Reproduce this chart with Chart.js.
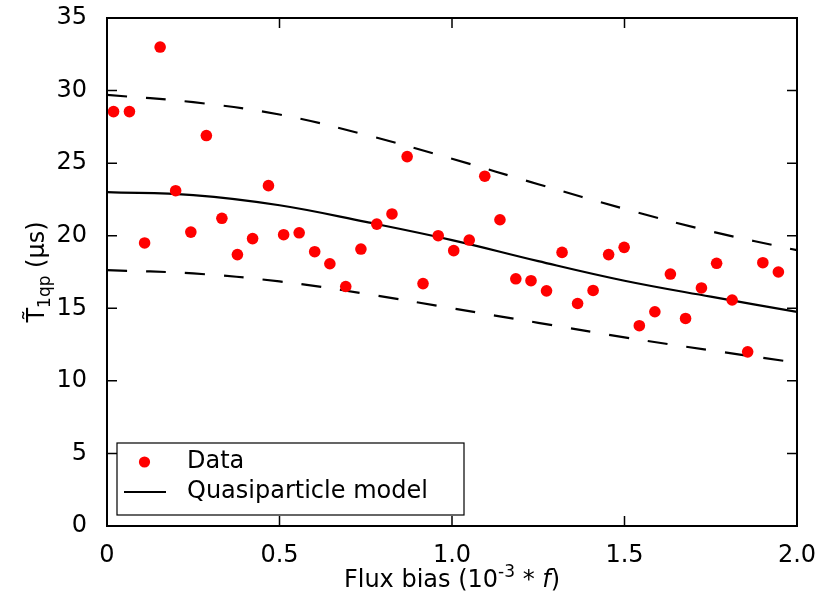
<!DOCTYPE html>
<html lang="en">
<head>
<meta charset="UTF-8" />
<title>T1qp vs flux bias</title>
<script src="https://cdn.jsdelivr.net/npm/chart.js"></script>
<style>
  html, body { margin: 0; padding: 0; background: #ffffff; }
  #wrap { position: relative; width: 818px; height: 604px; }
</style>
</head>
<body>
<div id="wrap"><canvas id="chart" width="818" height="604"></canvas></div>
<script>
// measured points (flux bias in 1e-3 * f, T1qp in us)
const fluxBias = [0.019, 0.065, 0.109, 0.154, 0.199, 0.243, 0.288, 0.333, 0.378, 0.422, 0.468,
  0.512, 0.557, 0.602, 0.646, 0.692, 0.736, 0.782, 0.826, 0.870, 0.916, 0.960, 1.005, 1.050,
  1.095, 1.139, 1.185, 1.229, 1.274, 1.319, 1.364, 1.409, 1.454, 1.499, 1.543, 1.588, 1.633,
  1.677, 1.723, 1.767, 1.812, 1.857, 1.901, 1.946];
const t1qp = [28.55, 28.55, 19.5, 33.0, 23.1, 20.25, 26.9, 21.2, 18.7, 19.8, 23.45,
  20.07, 20.2, 18.9, 18.07, 16.5, 19.08, 20.8, 21.5, 25.45, 16.7, 20.0, 18.97, 19.7,
  24.1, 21.1, 17.03, 16.9, 16.2, 18.85, 15.33, 16.23, 18.7, 19.2, 13.8, 14.76, 17.36,
  14.3, 16.4, 18.1, 15.57, 12.0, 18.14, 17.5];

// quasiparticle model curves
const modelFlux  = [0, 0.25, 0.5, 0.75, 1.0, 1.25, 1.5, 1.75, 2.0];
const modelT     = [23.0, 22.8, 22.1, 20.95, 19.7, 18.25, 16.9, 15.8, 14.75];
const modelUpper = [29.7, 29.2, 28.35, 26.95, 25.3, 23.55, 21.85, 20.3, 19.0];
const modelLower = [17.63, 17.4, 16.85, 16.0, 15.0, 14.0, 13.0, 12.1, 11.25];

const xTickLabels = ['0', '0.5', '1.0', '1.5', '2.0'];
const yTickLabels = ['0', '5', '10', '15', '20', '25', '30', '35'];

const FONT = '"DejaVu Sans", sans-serif';

function pairs(xs, ys) {
  return xs.map((x, i) => ({ x: x, y: ys[i] }));
}

// frame + inward ticks on all four sides, like the matplotlib original
const framePlugin = {
  id: 'frame',
  afterDatasetsDraw(chart) {
    const { ctx, chartArea: a, scales } = chart;
    const len = 10;
    ctx.save();
    ctx.strokeStyle = '#000';
    ctx.lineWidth = 1.5;
    ctx.beginPath();
    scales.x.ticks.forEach(t => {
      const px = scales.x.getPixelForValue(t.value);
      ctx.moveTo(px, a.bottom); ctx.lineTo(px, a.bottom - len);
      ctx.moveTo(px, a.top); ctx.lineTo(px, a.top + len);
    });
    scales.y.ticks.forEach(t => {
      const py = scales.y.getPixelForValue(t.value);
      ctx.moveTo(a.left, py); ctx.lineTo(a.left + len, py);
      ctx.moveTo(a.right, py); ctx.lineTo(a.right - len, py);
    });
    ctx.stroke();
    ctx.lineWidth = 2;
    ctx.strokeRect(a.left, a.top, a.right - a.left, a.bottom - a.top);
    ctx.restore();
  }
};

// legend box in the lower left corner + axis titles with sub/superscripts
const textPlugin = {
  id: 'texts',
  afterDraw(chart) {
    const { ctx, chartArea: a } = chart;
    ctx.save();

    // legend
    const bx = a.left + 10, by = 443, bw = 347, bh = 72;
    ctx.fillStyle = '#fff';
    ctx.fillRect(bx, by, bw, bh);
    ctx.strokeStyle = '#000';
    ctx.lineWidth = 1.2;
    ctx.strokeRect(bx, by, bw, bh);
    ctx.fillStyle = 'red';
    ctx.beginPath();
    ctx.arc(bx + 27.5, by + 19, 5.6, 0, Math.PI * 2);
    ctx.fill();
    ctx.strokeStyle = '#000';
    ctx.lineWidth = 2;
    ctx.beginPath();
    ctx.moveTo(bx + 7, by + 49); ctx.lineTo(bx + 49, by + 49);
    ctx.stroke();
    ctx.fillStyle = '#000';
    ctx.font = '24px ' + FONT;
    ctx.textBaseline = 'middle';
    ctx.textAlign = 'left';
    ctx.fillText('Data', bx + 70, by + 19);
    ctx.fillText('Quasiparticle model', bx + 70, by + 49);

    // x title: Flux bias (10^-3 * f)
    const parts = [
      { t: 'Flux bias (10', f: '24px ' + FONT, dy: 0 },
      { t: '-3', f: '17px ' + FONT, dy: -10 },
      { t: ' * ', f: '24px ' + FONT, dy: 0 },
      { t: 'f', f: 'italic 24px ' + FONT, dy: 0 },
      { t: ')', f: '24px ' + FONT, dy: 0 }
    ];
    drawParts(ctx, parts, (a.left + a.right) / 2, 587);

    // y title: T~_1qp (us)
    const yparts = [
      { t: 'T\u0303', f: '24px ' + FONT, dy: 0 },
      { t: '1qp', f: '17px ' + FONT, dy: 6 },
      { t: ' (\u03bcs)', f: '24px ' + FONT, dy: 0 }
    ];
    ctx.translate(44, (a.top + a.bottom) / 2);
    ctx.rotate(-Math.PI / 2);
    drawParts(ctx, yparts, 0, 0);
    ctx.restore();
  }
};

function drawParts(ctx, parts, cx, baseY) {
  ctx.textBaseline = 'alphabetic';
  ctx.textAlign = 'left';
  let total = 0;
  parts.forEach(p => { ctx.font = p.f; p.w = ctx.measureText(p.t).width; total += p.w; });
  let x = cx - total / 2;
  parts.forEach(p => {
    ctx.font = p.f;
    ctx.fillText(p.t, x, baseY + p.dy);
    x += p.w;
  });
}

new Chart(document.getElementById('chart'), {
  type: 'scatter',
  data: {
    datasets: [
      {
        label: 'Data',
        data: pairs(fluxBias, t1qp),
        backgroundColor: 'red',
        borderWidth: 0,
        pointRadius: 5.8,
        order: 0
      },
      {
        label: 'Quasiparticle model',
        data: pairs(modelFlux, modelT),
        showLine: true,
        borderColor: '#000',
        borderWidth: 2.2,
        pointRadius: 0,
        tension: 0.4,
        order: 1
      },
      {
        label: 'upper',
        data: pairs(modelFlux, modelUpper),
        showLine: true,
        borderColor: '#000',
        borderWidth: 2.2,
        borderDash: [20, 19],
        pointRadius: 0,
        tension: 0.4,
        order: 2
      },
      {
        label: 'lower',
        data: pairs(modelFlux, modelLower),
        showLine: true,
        borderColor: '#000',
        borderWidth: 2.2,
        borderDash: [20, 19],
        pointRadius: 0,
        tension: 0.4,
        order: 3
      }
    ]
  },
  options: {
    responsive: false,
    animation: false,
    layout: { padding: { top: 18, right: 21, left: 0, bottom: 0 } },
    plugins: { legend: { display: false }, tooltip: { enabled: false } },
    scales: {
      x: {
        type: 'linear',
        min: 0, max: 2,
        grid: { display: false },
        border: { display: false },
        ticks: {
          stepSize: 0.5,
          padding: 7,
          color: '#000',
          font: { family: FONT, size: 24 },
          maxRotation: 0,
          callback: (v, i) => xTickLabels[i]
        },
        afterFit: s => { s.height = 78; s.paddingLeft = 0; s.paddingRight = 0; }
      },
      y: {
        min: 0, max: 35,
        grid: { display: false },
        border: { display: false },
        ticks: {
          stepSize: 5,
          padding: 12,
          color: '#000',
          font: { family: FONT, size: 24 },
          callback: (v, i) => yTickLabels[i]
        },
        afterFit: s => { s.width = 107; s.paddingTop = 0; s.paddingBottom = 0; }
      }
    }
  },
  plugins: [framePlugin, textPlugin]
});
</script>
</body>
</html>
